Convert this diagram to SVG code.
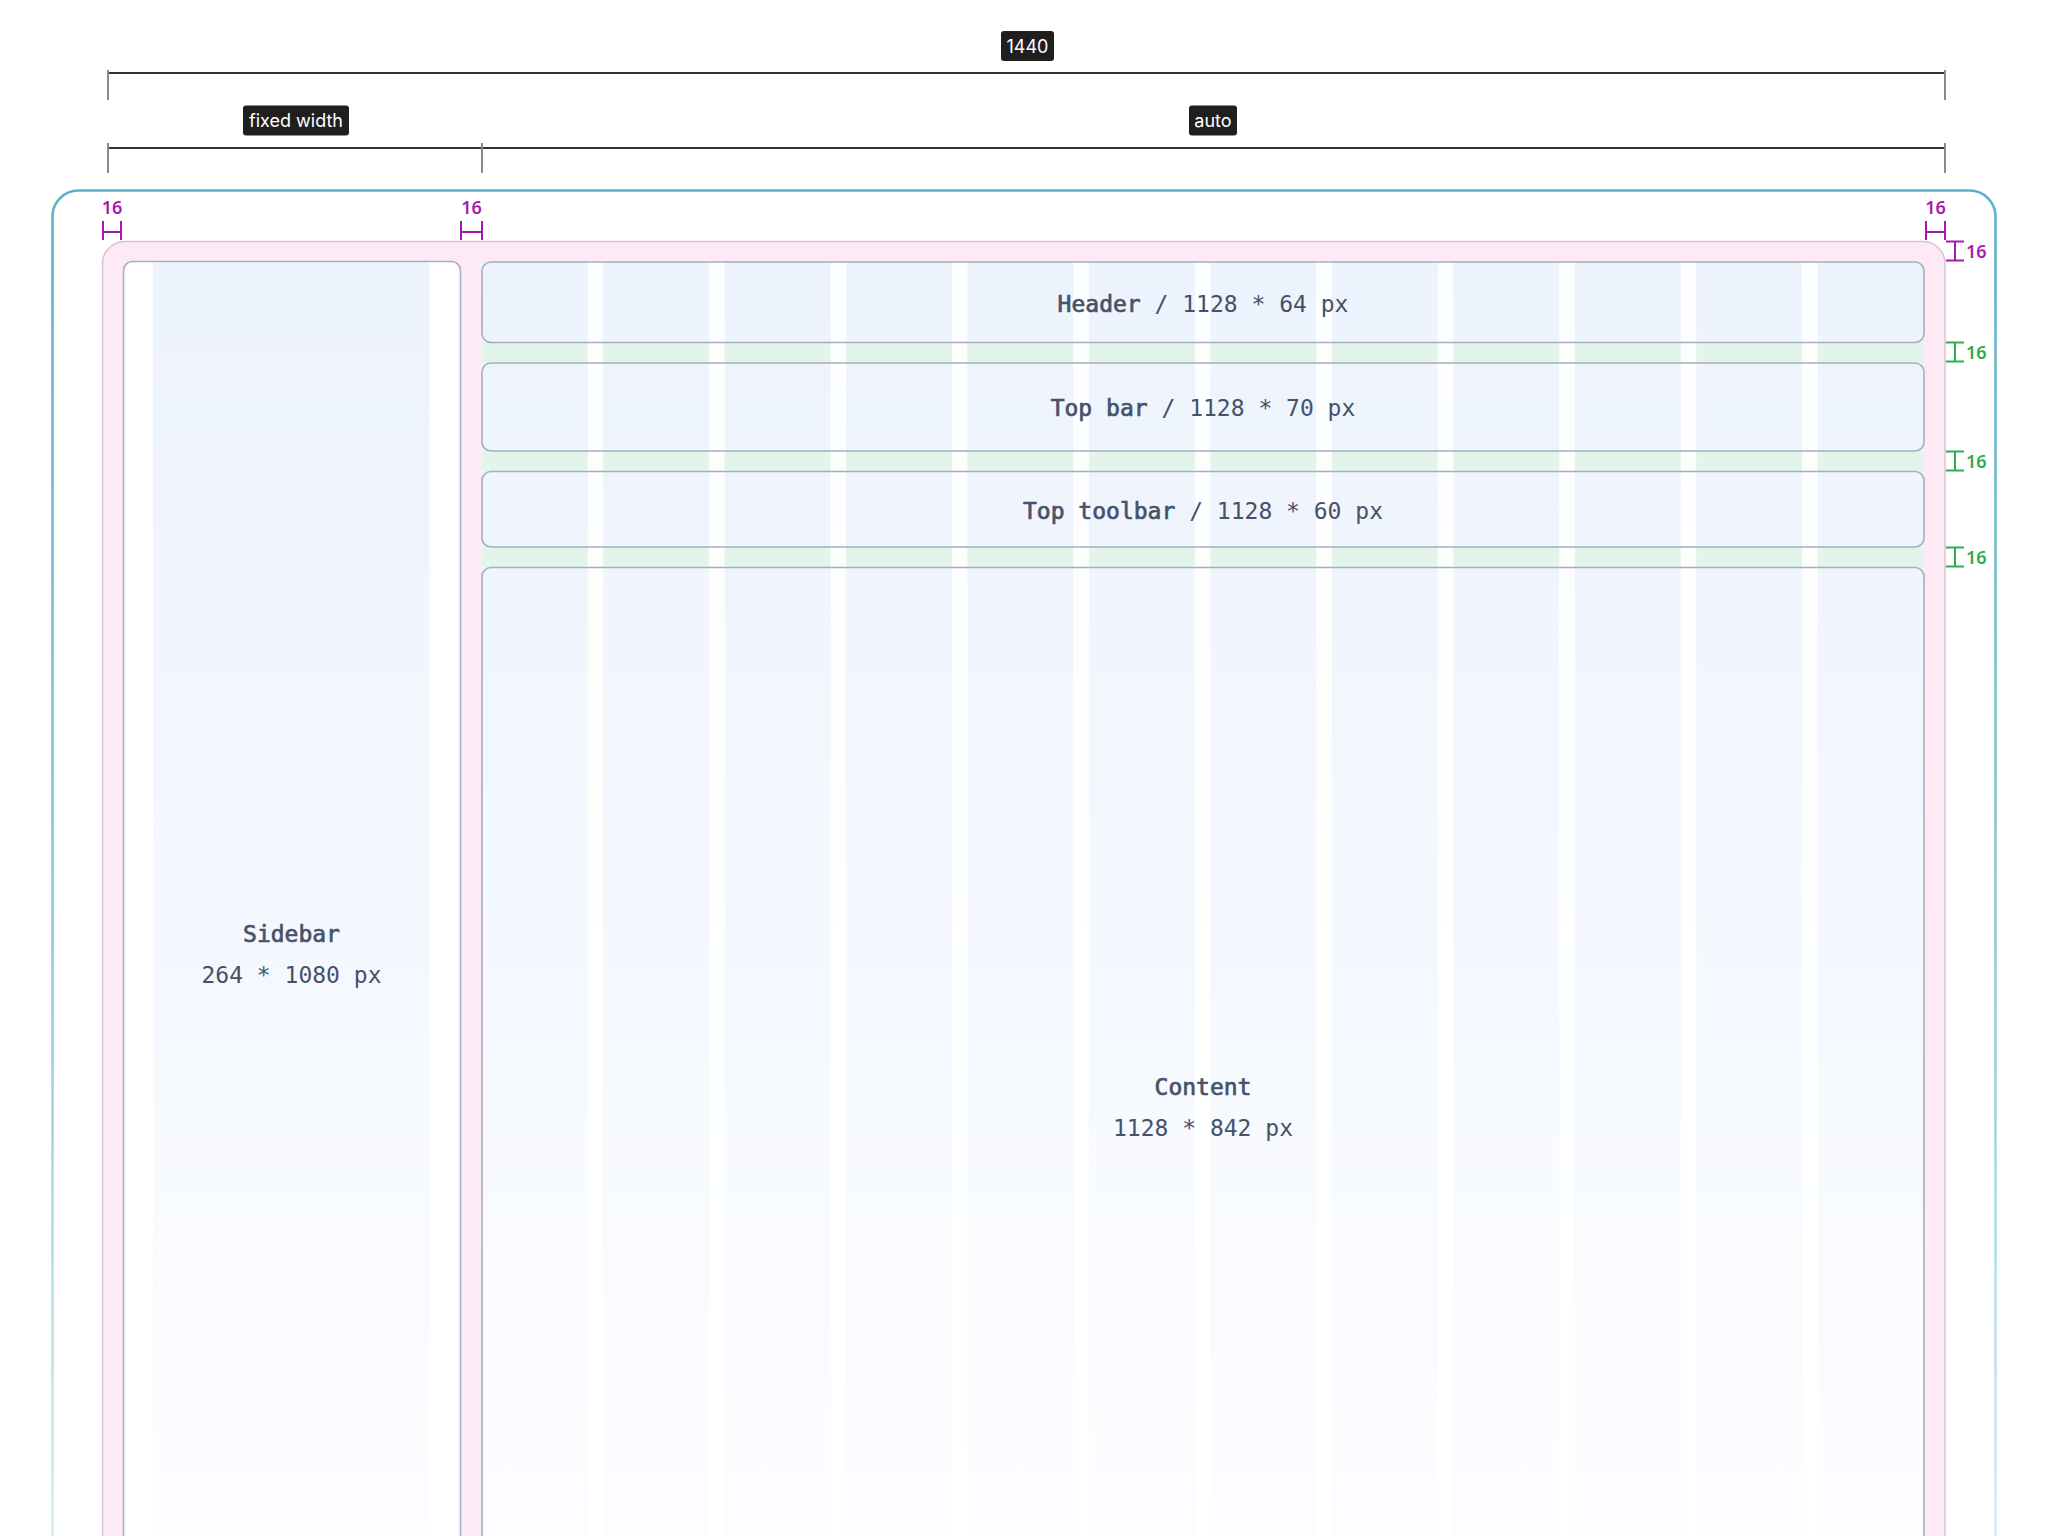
<svg xmlns="http://www.w3.org/2000/svg" width="2048" height="1536" viewBox="0 0 2048 1536">
<defs>
<linearGradient id="blueFade" gradientUnits="userSpaceOnUse" x1="0" y1="262" x2="0" y2="1536">
<stop offset="0" stop-color="#edf3fc"/>
<stop offset="0.45" stop-color="#f3f7fe"/>
<stop offset="1" stop-color="#fcfdff"/>
</linearGradient>
<linearGradient id="tealFade" gradientUnits="userSpaceOnUse" x1="0" y1="190" x2="0" y2="1536">
<stop offset="0" stop-color="#5cb0c5"/>
<stop offset="0.55" stop-color="#8fcbd8"/>
<stop offset="1" stop-color="#d3edf2"/>
</linearGradient>
<style>
.dimline{stroke:#333;stroke-width:1.8;fill:none}
.tick{stroke:#8a8a8a;stroke-width:2;fill:none}
.tag{fill:#1f1f1f}
.tagtext{font-family:Inter,"Noto Sans",sans-serif;font-size:18px;fill:#fff;text-anchor:middle}
.mag{stroke:#a51aae;stroke-width:2;fill:none}
.magtext{font-family:"Noto Sans","Open Sans",sans-serif;font-size:18px;font-weight:600;fill:#a51aae}
.grn{stroke:#2aad4b;stroke-width:2;fill:none}
.grntext{font-family:"Noto Sans","Open Sans",sans-serif;font-size:18px;font-weight:600;fill:#2aad4b}
.box{fill:none;stroke:#a5aec0;stroke-width:1.6}
.name{font-family:"DejaVu Sans Mono","Liberation Mono",monospace;font-size:23px;font-weight:normal;fill:#47526a;stroke:#47526a;stroke-width:0.7;text-anchor:middle}
.dim{font-family:"DejaVu Sans Mono","Liberation Mono",monospace;font-size:23px;fill:#46516a;text-anchor:middle}
.gutter{fill:#ffffff;opacity:0.88}
.gap{fill:#e3f5eb}
</style>
</defs>
<rect width="2048" height="1536" fill="#ffffff"/>

<g id="viewport">
<rect x="52.5" y="190.5" width="1943" height="1500" rx="26" fill="none" stroke="url(#tealFade)" stroke-width="2.6"/>
</g>

<g id="frame">
<rect x="102.5" y="241.5" width="1842.5" height="1450" rx="22" fill="#fdeaf5" stroke="#d8c2da" stroke-width="1.5"/>
</g>

<g id="sidebar">
<rect x="123.5" y="261.5" width="337" height="1420" rx="9" fill="#ffffff"/>
<rect x="153" y="262.5" width="276.5" height="1420" fill="url(#blueFade)"/>
<rect x="123.5" y="261.5" width="337" height="1420" rx="9" fill="none" stroke="#a9adc1" stroke-width="1.6"/>
<text class="name" x="291.5" y="942">Sidebar</text>
<text class="dim" x="291.5" y="983">264 * 1080 px</text>
</g>

<g id="grid">
<rect x="482" y="262" width="1442" height="1430" fill="url(#blueFade)"/>
<rect class="gap" x="482" y="342.5" width="1442" height="20.5"/>
<rect class="gap" x="482" y="451" width="1442" height="20.5"/>
<rect class="gap" x="482" y="547" width="1442" height="20.5"/>
<rect class="gutter" x="587.6" y="262" width="15.5" height="1430"/>
<rect class="gutter" x="709.1" y="262" width="15.5" height="1430"/>
<rect class="gutter" x="830.5" y="262" width="15.5" height="1430"/>
<rect class="gutter" x="952.0" y="262" width="15.5" height="1430"/>
<rect class="gutter" x="1073.4" y="262" width="15.5" height="1430"/>
<rect class="gutter" x="1194.9" y="262" width="15.5" height="1430"/>
<rect class="gutter" x="1316.3" y="262" width="15.5" height="1430"/>
<rect class="gutter" x="1437.8" y="262" width="15.5" height="1430"/>
<rect class="gutter" x="1559.2" y="262" width="15.5" height="1430"/>
<rect class="gutter" x="1680.7" y="262" width="15.5" height="1430"/>
<rect class="gutter" x="1802.1" y="262" width="15.5" height="1430"/>
</g>

<g id="header">
<rect class="box" x="482" y="262" width="1442" height="80.5" rx="9"/>
<text class="dim" x="1203" y="312"><tspan class="name">Header</tspan> / 1128 * 64 px</text>
</g>

<g id="topbar">
<rect class="box" x="482" y="363" width="1442" height="88" rx="9"/>
<text class="dim" x="1203" y="416"><tspan class="name">Top bar</tspan> / 1128 * 70 px</text>
</g>

<g id="toptoolbar">
<rect class="box" x="482" y="471.5" width="1442" height="75.5" rx="9"/>
<text class="dim" x="1203" y="519"><tspan class="name">Top toolbar</tspan> / 1128 * 60 px</text>
</g>

<g id="content">
<rect class="box" x="482" y="567.5" width="1442" height="1110" rx="9"/>
<text class="name" x="1203" y="1095">Content</text>
<text class="dim" x="1203" y="1136">1128 * 842 px</text>
</g>

<g id="dimensions">
<line class="dimline" x1="108" y1="73" x2="1945" y2="73"/>
<line class="tick" x1="108" y1="70" x2="108" y2="100"/>
<line class="tick" x1="1945" y1="70" x2="1945" y2="100"/>
<line class="dimline" x1="108" y1="148" x2="1945" y2="148"/>
<line class="tick" x1="108" y1="143" x2="108" y2="173"/>
<line class="tick" x1="482" y1="143" x2="482" y2="173"/>
<line class="tick" x1="1945" y1="143" x2="1945" y2="173"/>
<rect class="tag" x="1001" y="31" width="53" height="30" rx="3"/>
<text class="tagtext" x="1027.5" y="52.5">1440</text>
<rect class="tag" x="243" y="105.5" width="106" height="30" rx="3"/>
<text class="tagtext" x="296" y="126.5">fixed width</text>
<rect class="tag" x="1189" y="105.5" width="48" height="30" rx="3"/>
<text class="tagtext" x="1213" y="126.5">auto</text>
</g>

<g id="spacing">
<path class="mag" d="M103 221V240M121 221V240M103 232H121"/>
<text class="magtext" x="112" y="214" text-anchor="middle">16</text>
<path class="mag" d="M461 221V240M482 221V240M461 232H482"/>
<text class="magtext" x="471.5" y="214" text-anchor="middle">16</text>
<path class="mag" d="M1926 221V240M1945 221V240M1926 232H1945"/>
<text class="magtext" x="1935.5" y="214" text-anchor="middle">16</text>
<path class="mag" d="M1946 241.5H1964M1946 260.5H1964M1955 241.5V260.5"/>
<text class="magtext" x="1966" y="257.5">16</text>
<path class="grn" d="M1946 342.5H1964M1946 361.5H1964M1955 342.5V361.5"/>
<text class="grntext" x="1966" y="359">16</text>
<path class="grn" d="M1946 451.5H1964M1946 470.5H1964M1955 451.5V470.5"/>
<text class="grntext" x="1966" y="467.5">16</text>
<path class="grn" d="M1946 547.5H1964M1946 566.5H1964M1955 547.5V566.5"/>
<text class="grntext" x="1966" y="563.5">16</text>
</g>
</svg>
